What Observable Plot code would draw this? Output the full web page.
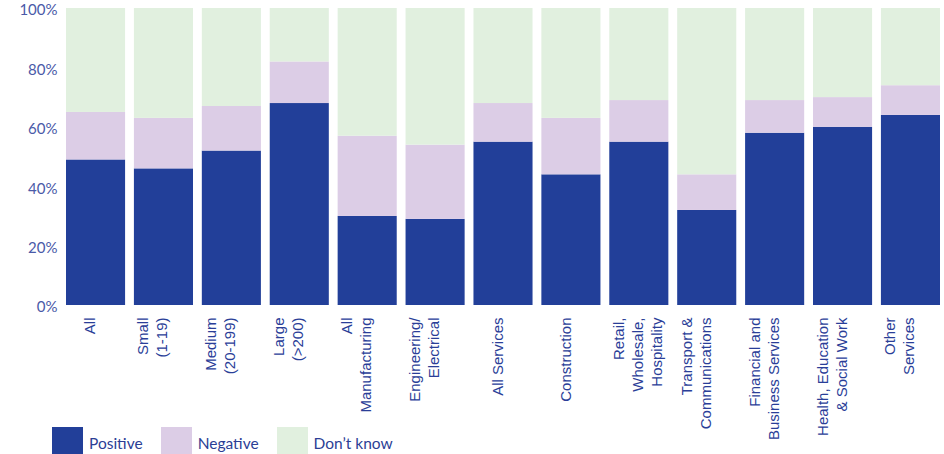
<!DOCTYPE html>
<html><head><meta charset="utf-8">
<script src="https://cdn.jsdelivr.net/npm/d3@7"></script>
<script src="https://cdn.jsdelivr.net/npm/@observablehq/plot@0.6"></script>
<style>
body{margin:0;background:#fff;overflow:hidden;}
#chart svg{display:block;overflow:visible;}
#legend{display:flex;align-items:center;margin-left:52px;margin-top:5px;font-family:Lato,"Open Sans",sans-serif;font-size:15.5px;color:#2b3e95;height:27px;}
.sw{width:31px;height:27px;margin-right:6px;flex:none;}
.lab{margin-right:18px;padding-top:5px;}
</style></head>
<body><div id="chart"></div><div id="legend"></div>
<script>
const categories = ["All","Small\n(1-19)","Medium\n(20-199)","Large\n(>200)","All\nManufacturing","Engineering/\nElectrical","All Services","Construction","Retail,\nWholesale,\nHospitality","Transport &\nCommunications","Financial and\nBusiness Services","Health, Education\n& Social Work","Other\nServices"];
const positive = [49, 46, 52, 68, 30, 29, 55, 44, 55, 32, 58, 60, 64];
const negative = [16, 17, 15, 14, 27, 25, 13, 19, 14, 12, 11, 10, 10];
const dontKnow = [35, 37, 33, 18, 43, 46, 32, 37, 31, 56, 31, 30, 26];
const seriesNames = ["Positive","Negative","Don\u2019t know"];
const seriesColors = ["#223f99","#dccde6","#e1f0df"];
const yTicks = [0,20,40,60,80,100];

const seriesValues = [positive, negative, dontKnow];
const rows = [];
categories.forEach((c, i) => {
  seriesNames.forEach((s, j) => rows.push({category: c, series: s, value: seriesValues[j][i]}));
});
const single = categories.filter(c => !c.includes("\n"));
const multi = categories.filter(c => c.includes("\n"));
const labelStyle = {fontFamily: "'Liberation Sans', Arial, sans-serif", fontSize: 15, fill: "#2a3e98", rotate: -90, textAnchor: "end", frameAnchor: "bottom", lineHeight: 19/15, dy: 12};

const chart = Plot.plot({
  width: 944, height: 422,
  marginTop: 8, marginBottom: 117, marginLeft: 66, marginRight: 4,
  style: {fontFamily: "Lato, sans-serif", background: "#fff", overflow: "visible"},
  x: {domain: categories, paddingInner: 0.13, paddingOuter: 0, round: false, axis: null},
  y: {domain: [0, 100], axis: null},
  color: {domain: seriesNames, range: seriesColors},
  marks: [
    Plot.barY(rows, {x: "category", y: "value", fill: "series"}),
    Plot.axisY({ticks: yTicks, tickSize: 0, tickPadding: 9, dy: 2, tickFormat: d => d + "%", fontSize: 15, fill: "#4a5aa8", label: null}),
    Plot.text(single, {x: d => d, text: d => d, lineAnchor: "middle", dx: -7, ...labelStyle}),
    Plot.text(multi, {x: d => d, text: d => d, lineAnchor: "top", dx: -29, ...labelStyle})
  ]
});
document.getElementById("chart").append(chart);

const legend = document.getElementById("legend");
seriesNames.forEach((s, j) => {
  const sw = document.createElement("div");
  sw.className = "sw"; sw.style.background = seriesColors[j];
  const lab = document.createElement("div");
  lab.className = "lab"; lab.textContent = s;
  legend.append(sw, lab);
});
</script>
</body></html>
